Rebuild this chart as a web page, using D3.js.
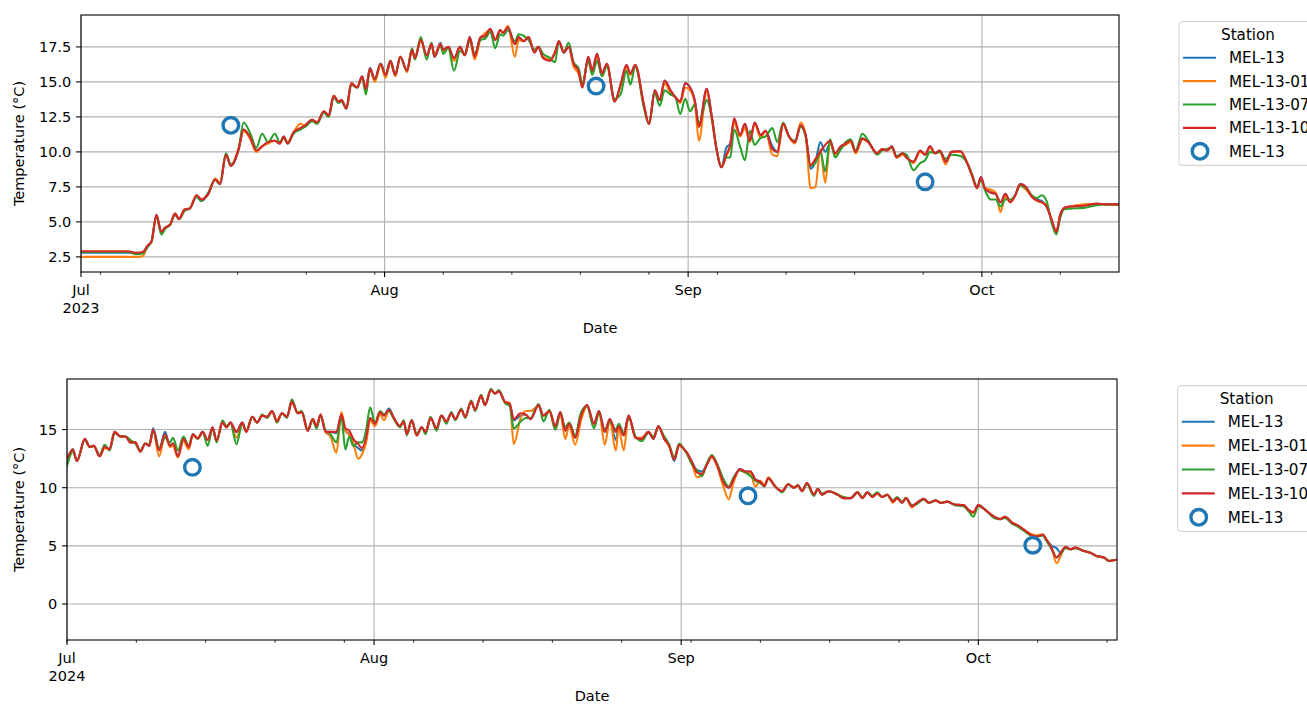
<!DOCTYPE html>
<html>
<head>
<meta charset="utf-8">
<script src="https://cdn.jsdelivr.net/npm/d3@7"></script>
<style>
  html, body { margin: 0; padding: 0; background: #fff; overflow: hidden; }
  svg text { font-family: "DejaVu Sans", sans-serif; fill: #000; }
</style>
</head>
<body>
<svg id="chart" width="1307" height="704"></svg>
<script>
// ---- stations -------------------------------------------------------------
const stations = ["MEL-13", "MEL-13-01", "MEL-13-07", "MEL-13-10"];
const stationColors = ["#1f77b4", "#ff7f0e", "#2ca02c", "#d62728"];
const markerLabel = "MEL-13";

// ---- 2023 season: sample times (days after 1 Jul) and temperatures (°C) ----
const days2023 = [0,2.5,4.8,5.6,6.3,6.8,7.2,7.7,8.2,8.6,9.1,9.6,10.0,10.6,11.1,11.8,12.3,13.0,13.7,14.2,14.8,15.3,16.1,16.6,17.3,17.9,18.5,19.1,19.8,20.3,20.7,21.1,21.7,22.4,22.9,23.6,24.1,24.8,25.3,25.8,26.3,26.6,27.1,27.6,28.2,28.7,29.1,29.5,30.0,30.6,31.1,31.6,32.1,32.6,33.3,33.8,34.1,34.7,35.3,35.8,36.1,36.7,37.0,37.5,38.1,38.7,39.2,39.7,40.2,40.8,41.3,41.8,42.3,42.8,43.1,43.6,44.3,44.7,45.2,45.7,46.3,46.7,47.2,47.9,48.4,48.8,49.3,49.8,50.3,50.8,51.2,51.8,52.2,52.7,53.2,53.7,54.5,55.1,55.7,56.1,56.6,57.5,58.0,58.6,59.1,59.6,60.2,60.7,61.2,61.7,62.2,62.7,63.1,63.9,64.4,64.9,65.4,65.9,66.3,66.7,67.3,67.8,68.3,68.8,69.4,69.9,70.6,71.1,71.7,72.3,72.9,73.5,74.0,74.5,75.0,75.5,76.0,76.5,77.0,77.6,78.1,78.6,79.1,79.8,80.4,81.3,81.8,82.3,82.8,83.3,83.9,84.3,85.0,85.7,86.2,86.7,87.2,87.7,88.3,88.9,89.8,90.5,91.0,91.5,91.9,92.3,92.9,93.4,93.9,94.4,94.9,95.4,95.9,96.5,97.1,97.6,98.1,98.6,99.1,99.6,100.0,100.4,101.0,102.4,103.7,104.8,106.0];
const mel13_2023 = [2.8,2.8,2.8,2.75,2.8,3.3,3.6,5.5,4.3,4.6,4.8,5.6,5.2,5.9,5.95,6.8,6.5,7.0,8.05,7.7,9.8,9.0,10.2,11.6,11.0,10.1,10.4,10.7,10.8,10.6,11.1,10.6,11.4,11.7,11.9,12.3,12.1,12.9,12.6,14.0,13.6,13.7,13.1,14.9,14.6,15.4,14.5,16.0,15.2,16.3,15.5,16.5,15.5,16.8,15.8,17.3,16.7,18.0,16.9,17.7,16.8,17.8,17.3,17.5,16.7,17.5,16.9,18.2,16.8,18.2,18.3,18.8,18.0,18.7,18.5,18.9,17.7,18.2,17.9,18.2,17.1,17.5,16.7,16.6,17.1,17.9,17.1,17.5,16.3,15.8,14.6,16.8,15.8,17.0,15.6,16.3,13.6,14.8,16.2,15.6,16.2,13.3,12.0,14.4,13.7,15.1,14.4,13.9,13.6,14.9,14.6,13.6,11.8,14.5,12.6,10.2,8.9,10.3,10.6,12.2,11.2,12.0,10.8,12.1,11.2,11.5,10.4,10.0,12.0,11.1,10.7,11.9,11.2,8.8,9.3,10.7,10.0,10.6,9.9,10.4,10.6,10.8,10.0,10.95,10.7,9.9,10.2,10.1,10.4,9.6,9.9,9.6,9.3,10.1,9.8,10.4,9.9,10.1,9.3,10.0,10.05,9.2,8.3,7.4,8.2,7.4,7.1,7.0,6.4,7.0,6.4,6.9,7.7,7.5,6.8,6.6,6.5,6.1,5.2,4.3,5.5,6.0,6.1,6.2,6.3,6.25,6.25];
const mel1301_2023 = [2.5,2.5,2.5,2.5,2.55,3.3,3.6,5.4,4.3,4.6,4.8,5.6,5.2,5.9,5.95,6.9,6.6,7.0,8.1,7.8,9.8,9.0,10.3,11.5,10.9,10.0,10.4,10.6,10.8,10.6,11.0,10.7,11.4,12.0,11.9,12.3,12.1,12.9,12.6,14.0,13.6,13.7,13.1,14.9,14.6,15.3,14.5,15.9,15.0,16.2,15.3,16.4,15.4,16.8,15.7,17.3,16.8,17.9,16.9,17.7,16.9,17.7,17.2,17.5,16.5,17.4,16.9,18.0,16.6,18.1,18.5,18.7,18.0,18.7,18.5,19.0,16.8,18.0,17.9,18.2,17.1,17.5,16.8,16.6,17.1,17.9,17.2,17.5,16.1,15.6,14.8,16.6,15.8,16.8,15.4,16.3,13.6,14.8,16.0,15.5,16.2,13.3,12.0,14.3,13.7,14.9,14.2,13.9,13.5,14.6,14.4,13.4,10.8,14.3,12.4,10.2,9.0,9.7,10.4,12.1,11.1,11.7,10.7,12.0,11.0,11.5,9.8,9.7,12.0,11.1,10.6,12.1,11.2,7.4,7.5,10.2,7.8,10.7,9.8,10.3,10.5,10.7,9.9,10.9,10.7,9.9,10.2,10.1,10.3,9.6,9.8,9.6,9.2,10.0,9.8,10.3,9.9,10.0,9.1,10.0,10.0,9.2,8.3,7.4,8.1,7.4,7.3,7.1,5.7,6.8,6.4,6.9,7.6,7.3,6.8,6.5,6.4,6.2,5.2,4.3,5.5,6.0,6.1,6.25,6.3,6.25,6.25];
const mel1307_2023 = [2.85,2.85,2.85,2.7,2.75,3.2,3.6,5.4,4.1,4.5,4.8,5.5,5.2,5.8,5.95,6.8,6.5,7.1,8.0,7.7,9.9,9.1,10.2,12.1,11.3,10.3,11.3,10.7,11.3,10.7,11.0,10.6,11.3,11.6,11.8,12.2,12.0,12.8,12.5,13.9,13.5,13.6,13.1,14.8,14.6,15.3,14.1,15.9,15.2,16.3,15.5,16.5,15.5,16.8,15.8,17.4,16.6,18.2,16.6,17.8,16.8,17.6,17.0,17.4,15.8,17.2,17.0,18.0,17.0,18.0,18.1,18.6,17.4,18.4,18.3,18.7,17.9,18.4,18.3,18.0,17.3,17.5,17.0,16.7,16.4,17.9,17.1,17.8,16.4,16.0,14.9,16.5,15.5,16.5,15.4,16.1,13.8,14.1,15.8,14.8,16.1,13.1,12.0,14.2,13.3,14.4,14.1,13.9,12.7,13.8,12.9,13.4,12.0,13.7,12.5,10.2,8.9,9.6,9.6,11.6,10.4,9.4,11.5,10.5,11.0,11.1,11.7,10.7,12.1,11.1,10.8,11.8,11.1,9.0,9.2,10.0,8.6,10.9,9.6,10.2,10.7,10.9,10.1,11.3,10.8,9.8,10.1,10.2,10.3,9.7,9.9,9.8,8.7,9.2,9.4,10.0,9.9,10.0,9.5,9.8,9.7,9.2,8.4,7.5,8.0,7.3,6.6,6.6,6.1,6.6,6.6,6.9,7.6,7.4,6.9,6.7,6.9,6.5,5.0,4.1,5.3,5.9,5.95,6.0,6.2,6.25,6.25];
const mel1310_2023 = [2.9,2.9,2.9,2.8,2.85,3.3,3.6,5.5,4.3,4.6,4.8,5.6,5.2,5.9,5.95,6.9,6.6,7.0,8.05,7.7,9.8,9.0,10.2,11.6,11.0,10.1,10.4,10.7,10.8,10.6,11.1,10.6,11.4,11.7,11.9,12.3,12.1,12.9,12.6,14.0,13.6,13.7,13.1,14.9,14.6,15.4,14.5,15.95,15.2,16.3,15.5,16.5,15.5,16.8,15.8,17.3,16.7,18.0,16.9,17.7,16.8,17.7,17.3,17.5,16.7,17.5,16.9,18.2,16.8,18.2,18.3,18.8,18.0,18.7,18.5,18.9,17.7,18.2,17.9,18.2,17.1,17.5,16.7,16.5,17.1,17.9,17.1,17.5,16.3,15.8,14.6,16.8,15.8,17.0,15.6,16.3,13.6,14.8,16.2,15.6,16.2,13.3,12.0,14.4,13.7,15.1,14.4,13.9,13.6,14.9,14.6,13.6,11.8,14.5,12.6,10.2,8.9,9.8,10.5,12.4,11.2,12.0,10.8,12.1,11.2,11.5,10.2,10.0,12.0,11.1,10.7,11.9,11.2,9.05,9.5,10.0,10.5,10.8,9.9,10.4,10.6,10.8,10.0,10.95,10.7,9.9,10.2,10.1,10.4,9.6,9.9,9.6,9.3,10.1,9.8,10.4,9.9,10.1,9.3,10.0,10.05,9.2,8.3,7.4,8.2,7.4,7.1,7.0,6.4,7.0,6.4,6.9,7.7,7.5,6.8,6.55,6.4,6.1,5.2,4.3,5.5,6.0,6.1,6.15,6.3,6.25,6.25];
// spot readings at MEL-13
const spotDays2023 = [15.3, 52.6, 86.2];
const spotTemps2023 = [11.9, 14.7, 7.86];

// ---- 2024 season -----------------------------------------------------------
const days2024 = [0,0.6,1.0,1.8,2.3,2.7,3.3,3.8,4.3,4.8,5.4,5.9,6.4,6.9,7.4,7.9,8.3,8.7,9.3,9.9,10.4,10.7,11.2,11.75,12.3,12.7,13.2,13.7,14.2,14.7,15.1,15.7,16.1,16.5,17.1,17.7,18.1,18.7,19.2,19.7,20.2,20.7,21.2,21.7,22.2,22.7,23.3,23.7,24.3,24.8,25.2,25.6,26.1,26.6,27.2,27.7,28.1,28.5,28.9,29.4,29.8,30.2,30.6,31.1,31.6,32.0,32.5,33.0,33.6,34.0,34.3,34.8,35.3,35.8,36.2,36.7,37.3,37.8,38.3,38.8,39.2,39.8,40.2,40.8,41.2,41.8,42.2,42.8,43.2,43.6,44.2,44.7,45.1,45.8,46.3,46.8,47.6,48.1,48.7,49.3,49.8,50.3,50.7,51.3,51.9,52.5,53.2,53.7,54.3,54.8,55.4,55.7,56.2,56.7,57.4,58.0,58.7,59.2,59.7,60.3,60.8,61.3,61.8,62.3,62.6,63.1,63.6,64.1,64.6,65.1,65.6,66.3,66.8,67.3,67.9,68.5,69.0,69.5,70.0,70.4,70.8,71.5,72.2,72.8,73.4,73.8,74.2,74.7,75.4,75.8,76.2,76.9,77.8,78.4,79.1,79.8,80.3,80.8,81.3,81.8,82.3,82.8,83.4,83.8,84.3,84.7,85.3,85.8,86.5,87.0,87.7,88.2,88.9,89.6,90.5,91.0,91.5,92.0,92.7,93.6,94.2,94.7,95.4,96.1,96.9,97.4,97.9,98.5,98.9,99.4,99.9,100.3,100.8,101.3,101.8,102.5,103.3,104.0,104.7,105.2,106.0];
const mel13_2024 = [12.4,13.3,12.3,14.2,13.5,13.6,12.7,13.5,13.3,14.8,14.4,14.4,13.9,13.9,13.1,13.8,13.6,15.1,13.3,14.8,13.6,13.8,12.7,14.2,13.5,14.6,14.25,14.8,14.1,15.2,14.05,15.6,15.2,15.6,14.8,15.6,14.8,16.1,15.6,16.2,16.1,16.6,15.7,16.4,16.1,17.4,16.4,16.5,14.9,15.9,15.3,16.3,14.8,14.8,14.7,16.3,14.9,14.6,13.8,13.4,13.2,14.2,16.0,15.5,16.5,16.2,16.8,16.0,15.3,15.7,14.6,15.8,14.5,15.2,14.8,16.0,15.1,16.2,15.7,16.4,15.9,16.7,16.1,17.4,16.7,17.9,17.1,18.4,18.1,18.3,17.4,17.2,15.8,16.2,16.3,15.9,17.1,16.2,16.6,15.3,16.5,14.9,15.5,14.3,16.2,17.1,15.5,16.6,14.8,15.9,14.1,15.3,14.5,16.2,14.3,14.2,14.8,14.2,15.3,14.2,13.6,12.3,13.7,13.3,13.0,12.2,11.5,11.4,12.0,12.7,12.0,10.4,10.0,10.7,11.6,11.4,11.4,10.7,10.5,10.15,10.8,10.1,9.7,10.3,10.0,10.2,9.7,10.4,9.4,9.9,9.4,9.7,9.4,9.1,9.1,9.6,9.1,9.6,9.2,9.5,9.2,9.4,8.8,9.1,8.7,9.1,8.4,8.7,9.05,8.7,8.9,8.7,8.8,8.55,8.5,8.1,7.8,8.5,8.1,7.5,7.3,7.5,7.0,6.7,6.2,5.95,5.8,5.95,5.5,5.0,4.8,4.4,4.9,4.7,4.85,4.6,4.4,4.1,4.0,3.7,3.8];
const mel1301_2024 = [12.4,13.2,12.3,14.1,13.5,13.6,12.7,13.4,13.3,14.8,14.4,14.4,13.9,13.9,13.1,13.8,13.6,14.9,12.7,14.5,13.5,13.6,12.6,14.0,13.3,14.5,14.2,14.7,14.1,15.1,14.0,15.6,15.2,15.6,14.3,15.5,14.8,16.1,15.6,16.2,16.1,16.5,15.8,16.4,16.1,17.3,16.5,16.5,14.9,15.9,15.3,16.3,14.8,14.4,13.0,16.5,15.0,14.5,13.8,12.5,12.9,13.9,15.8,15.3,16.3,15.8,16.6,16.0,15.3,15.7,14.6,15.8,14.5,15.2,14.8,16.0,15.1,16.2,15.7,16.4,15.9,16.7,16.1,17.4,16.7,17.9,17.1,18.4,18.1,18.3,17.4,17.3,13.75,16.0,16.6,16.6,17.0,16.2,16.5,15.0,16.3,14.2,15.3,13.7,15.8,17.0,15.4,16.5,13.7,15.8,13.2,15.1,13.2,16.2,14.3,14.3,14.8,14.3,15.2,14.2,13.5,12.5,13.6,13.3,12.9,12.0,10.9,11.1,12.0,12.6,11.9,10.0,9.0,10.5,11.5,11.3,11.2,10.1,10.6,10.2,10.9,10.1,9.7,10.3,10.0,10.2,9.7,10.4,9.4,9.9,9.4,9.7,9.4,9.1,9.1,9.6,9.1,9.6,9.2,9.5,9.2,9.4,8.7,9.1,8.7,9.1,8.3,8.7,9.0,8.7,8.9,8.7,8.8,8.55,8.5,8.1,7.8,8.5,8.1,7.5,7.3,7.5,7.0,6.7,6.2,6.0,5.9,6.0,5.5,4.8,3.5,4.1,4.9,4.7,4.85,4.6,4.4,4.1,4.0,3.7,3.8];
const mel1307_2024 = [11.9,13.1,12.3,14.1,13.5,13.6,12.8,13.7,13.2,14.7,14.4,14.4,14.1,13.8,13.2,13.8,13.7,14.9,13.4,14.3,13.9,14.3,13.2,14.4,13.6,14.6,14.2,14.8,13.6,15.1,13.9,15.8,15.3,15.6,13.75,15.5,14.9,16.1,15.6,16.3,16.0,16.6,15.6,16.4,16.0,17.6,16.4,16.6,15.0,15.8,15.1,16.2,14.9,14.6,13.9,16.1,13.3,14.4,13.6,13.9,13.9,15.0,16.9,15.6,16.6,16.3,16.6,15.9,15.2,15.8,14.5,15.8,14.6,15.2,14.6,16.1,14.9,16.2,15.5,16.5,15.8,16.8,16.0,17.5,16.6,18.0,17.1,18.5,18.1,18.4,17.3,17.0,15.1,15.7,16.0,16.0,17.2,15.7,16.7,15.0,16.4,15.2,15.6,14.5,16.5,17.0,15.1,16.4,15.0,15.7,15.0,15.5,14.7,16.0,14.4,14.0,14.7,14.4,15.2,14.4,13.7,12.6,13.8,13.3,12.9,12.0,11.5,11.0,12.1,12.8,12.1,10.7,10.1,10.9,11.5,11.3,11.0,10.6,10.4,10.1,10.8,10.1,9.6,10.3,10.0,10.2,9.7,10.3,9.3,9.9,9.5,9.7,9.4,9.2,9.1,9.6,9.2,9.6,9.3,9.6,9.2,9.4,8.9,9.2,8.8,9.1,8.5,8.6,9.0,8.7,8.9,8.7,8.8,8.5,8.4,8.0,7.5,8.4,8.1,7.4,7.3,7.4,6.9,6.6,6.1,5.85,5.8,5.9,5.4,4.7,4.0,4.3,4.8,4.7,4.8,4.6,4.4,4.1,4.0,3.7,3.8];
const mel1310_2024 = [12.45,13.3,12.3,14.2,13.5,13.6,12.7,13.5,13.3,14.8,14.4,14.4,13.9,13.9,13.1,13.8,13.6,15.0,13.2,14.6,13.6,13.8,12.7,14.2,13.5,14.6,14.25,14.8,14.1,15.2,14.05,15.6,15.2,15.6,14.8,15.6,14.8,16.1,15.6,16.2,16.1,16.6,15.7,16.4,16.1,17.4,16.4,16.5,14.9,15.9,15.3,16.3,14.8,14.8,14.8,16.3,15.1,14.9,14.2,13.75,13.4,14.3,16.0,15.5,16.5,16.2,16.7,16.0,15.3,15.7,14.6,15.8,14.5,15.2,14.8,16.0,15.1,16.2,15.7,16.4,15.9,16.7,16.1,17.4,16.7,17.9,17.1,18.4,18.1,18.3,17.4,17.2,15.9,16.4,16.3,15.9,17.1,16.2,16.6,15.3,16.5,14.9,15.5,14.3,16.2,17.1,15.5,16.6,14.8,15.9,14.8,15.3,14.5,16.2,14.3,14.2,14.8,14.2,15.3,14.2,13.6,12.4,13.7,13.3,13.0,12.2,11.3,11.2,12.0,12.7,12.0,10.4,10.0,10.7,11.6,11.4,11.4,10.7,10.5,10.15,10.8,10.1,9.7,10.3,10.0,10.2,9.7,10.4,9.4,9.9,9.4,9.7,9.4,9.1,9.1,9.6,9.1,9.6,9.2,9.5,9.2,9.4,8.8,9.1,8.7,9.1,8.4,8.7,9.05,8.7,8.9,8.7,8.8,8.55,8.5,8.1,7.9,8.5,8.1,7.5,7.3,7.5,7.0,6.7,6.2,5.9,5.8,5.95,5.5,4.8,4.0,4.4,4.9,4.7,4.85,4.6,4.4,4.1,4.0,3.7,3.8];
const spotDays2024 = [12.66, 68.75, 97.5];
const spotTemps2024 = [11.75, 9.3, 5.05];

// ---- axis ticks --------------------------------------------------------------
const yTicks2023 = [2.5, 5.0, 7.5, 10.0, 12.5, 15.0, 17.5];
const yTicks2024 = [0, 5, 10, 15];

// ---- panels ------------------------------------------------------------------
const panels = [
  {
    year: 2023, days: days2023,
    series: [mel13_2023, mel1301_2023, mel1307_2023, mel1310_2023],
    spotDays: spotDays2023, spotTemps: spotTemps2023,
    yTicks: yTicks2023, yFormat: d3.format(".1f"), yDomain: [1.42, 19.78],
    box: { left: 81, right: 1119, top: 15, bottom: 272 },
    legend: { left: 1179, top: 21.7, rowGap: 23.4 }
  },
  {
    year: 2024, days: days2024,
    series: [mel13_2024, mel1301_2024, mel1307_2024, mel1310_2024],
    spotDays: spotDays2024, spotTemps: spotTemps2024,
    yTicks: yTicks2024, yFormat: d3.format("d"), yDomain: [-3.1, 19.35],
    box: { left: 67, right: 1117, top: 379, bottom: 640 },
    legend: { left: 1177.7, top: 385.7, rowGap: 23.9 }
  }
];

const svg = d3.select("#chart");
const FONT = 14.5;        // tick and axis labels
const LEGEND_FONT = 15.2; // legend title and entries
const GRID = "#b0b0b0";
const DAY = 864e5;

panels.forEach((p, pi) => {
  const b = p.box;
  const start = new Date(Date.UTC(p.year, 6, 1));
  const end = new Date(Date.UTC(p.year, 9, 15));
  const toDate = d => new Date(start.getTime() + d * DAY);

  const x = d3.scaleUtc().domain([start, end]).range([b.left, b.right]);
  const y = d3.scaleLinear().domain(p.yDomain).range([b.bottom, b.top]);

  const g = svg.append("g");
  const clipId = "clip" + pi;
  g.append("clipPath").attr("id", clipId)
    .append("rect").attr("x", b.left).attr("y", b.top)
    .attr("width", b.right - b.left).attr("height", b.bottom - b.top);

  // grid
  const months = d3.utcMonth.range(start, new Date(end.getTime() + 1));
  g.append("g").selectAll("line").data(months).join("line")
    .attr("x1", d => x(d)).attr("x2", d => x(d))
    .attr("y1", b.top).attr("y2", b.bottom)
    .attr("stroke", GRID).attr("stroke-width", 1.1);
  g.append("g").selectAll("line").data(p.yTicks).join("line")
    .attr("x1", b.left).attr("x2", b.right)
    .attr("y1", d => y(d)).attr("y2", d => y(d))
    .attr("stroke", GRID).attr("stroke-width", 1.1);

  // station lines
  const line = d3.line()
    .x((d, i) => x(toDate(p.days[i])))
    .y(d => y(d))
    .curve(d3.curveMonotoneX);
  const lg = g.append("g").attr("clip-path", `url(#${clipId})`);
  p.series.forEach((s, si) => {
    lg.append("path").datum(s)
      .attr("d", line)
      .attr("fill", "none")
      .attr("stroke", stationColors[si])
      .attr("stroke-width", 2.1)
      .attr("stroke-linejoin", "round")
      .attr("stroke-linecap", "square");
  });

  // spines
  g.append("rect").attr("x", b.left).attr("y", b.top)
    .attr("width", b.right - b.left).attr("height", b.bottom - b.top)
    .attr("fill", "none").attr("stroke", "#000").attr("stroke-width", 1.1);

  // y ticks
  const yt = g.append("g");
  p.yTicks.forEach(t => {
    yt.append("line").attr("x1", b.left - 4.9).attr("x2", b.left)
      .attr("y1", y(t)).attr("y2", y(t)).attr("stroke", "#000").attr("stroke-width", 1.1);
    yt.append("text").attr("x", b.left - 9.7).attr("y", y(t))
      .attr("dy", "0.36em").attr("text-anchor", "end")
      .attr("font-size", FONT).text(p.yFormat(t));
  });

  // x ticks: month majors, weekly (Monday) minors
  const xt = g.append("g");
  d3.utcMonday.range(start, new Date(end.getTime() + 1)).forEach(d => {
    xt.append("line").attr("x1", x(d)).attr("x2", x(d))
      .attr("y1", b.bottom).attr("y2", b.bottom + 2.8)
      .attr("stroke", "#000").attr("stroke-width", 0.8);
  });
  const fmtMonth = d3.utcFormat("%b");
  months.forEach((d, i) => {
    xt.append("line").attr("x1", x(d)).attr("x2", x(d))
      .attr("y1", b.bottom).attr("y2", b.bottom + 4.9)
      .attr("stroke", "#000").attr("stroke-width", 1.1);
    const t = xt.append("text").attr("x", x(d)).attr("y", b.bottom + 23.3)
      .attr("text-anchor", "middle").attr("font-size", FONT);
    t.append("tspan").attr("x", x(d)).text(fmtMonth(d));
    if (i === 0) {
      t.append("tspan").attr("x", x(d)).attr("dy", 17.5).text(String(p.year));
    }
  });

  // axis titles
  g.append("text")
    .attr("x", (b.left + b.right) / 2).attr("y", b.bottom + 61)
    .attr("text-anchor", "middle").attr("font-size", FONT).text("Date");
  g.append("text")
    .attr("transform", `translate(23.5,${(b.top + b.bottom) / 2}) rotate(-90)`)
    .attr("text-anchor", "middle").attr("font-size", FONT)
    .text("Temperature (°C)");

  // spot readings
  g.append("g").selectAll("circle").data(p.spotDays).join("circle")
    .attr("cx", d => x(toDate(d)))
    .attr("cy", (d, i) => y(p.spotTemps[i]))
    .attr("r", 7.8)
    .attr("fill", "none")
    .attr("stroke", stationColors[0])
    .attr("stroke-width", 3.4);

  // legend
  const L = p.legend;
  const leg = g.append("g");
  leg.append("rect").attr("x", L.left).attr("y", L.top)
    .attr("width", 200).attr("height", 36 + L.rowGap * 4 + 14)
    .attr("rx", 3).attr("fill", "#fff").attr("fill-opacity", 0.8)
    .attr("stroke", "#cccccc").attr("stroke-width", 1);
  leg.append("text").attr("x", L.left + 69).attr("y", L.top + 18.3)
    .attr("text-anchor", "middle").attr("font-size", LEGEND_FONT).text("Station");
  const entries = stations.map((s, i) => ({ name: s, color: stationColors[i], kind: "line" }))
    .concat([{ name: markerLabel, color: stationColors[0], kind: "marker" }]);
  entries.forEach((e, i) => {
    const ry = L.top + 36 + i * L.rowGap;
    if (e.kind === "line") {
      leg.append("line").attr("x1", L.left + 4).attr("x2", L.left + 37)
        .attr("y1", ry).attr("y2", ry)
        .attr("stroke", e.color).attr("stroke-width", 2.1);
    } else {
      leg.append("circle").attr("cx", L.left + 21).attr("cy", ry).attr("r", 7.8)
        .attr("fill", "none").attr("stroke", e.color).attr("stroke-width", 3.4);
    }
    leg.append("text").attr("x", L.left + 50).attr("y", ry).attr("dy", "0.36em")
      .attr("font-size", LEGEND_FONT).text(e.name);
  });
});
</script>
</body>
</html>
